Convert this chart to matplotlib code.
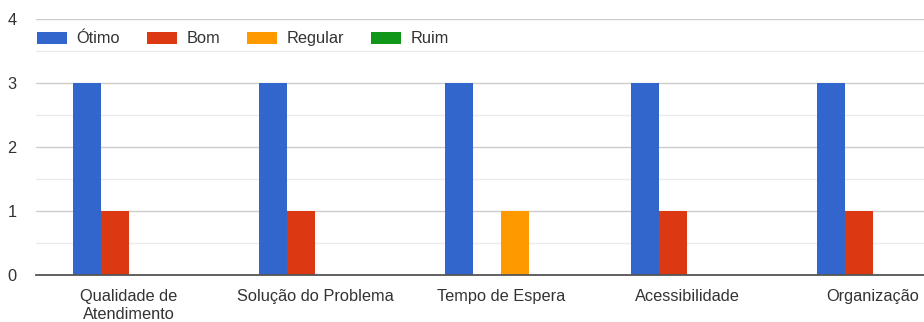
import numpy as np
import matplotlib
matplotlib.use("agg")
import matplotlib.pyplot as plt
from matplotlib.ticker import MultipleLocator

plt.rcParams['font.family'] = ['Liberation Sans', 'DejaVu Sans']

categories = ["Qualidade de\nAtendimento", "Solução do Problema", "Tempo de Espera",
              "Acessibilidade", "Organização"]
series_names = ["Ótimo", "Bom", "Regular", "Ruim"]
otimo = [3, 3, 3, 3, 3]
bom = [1, 1, 0, 1, 1]
regular = [0, 0, 1, 0, 0]
ruim = [0, 0, 0, 0, 0]
colors = ["#3366cc", "#dc3912", "#ff9900", "#109618"]

fs = 11.8

fig = plt.figure(figsize=(9.24, 3.22), dpi=100)
# the plot area runs past the right edge, so the last label gets cut
ax = fig.add_axes([36 / 924, 47 / 322, 930 / 924, 256 / 322])

x = np.arange(len(categories))
w = 0.15
for i, (vals, c, name) in enumerate(zip([otimo, bom, regular, ruim], colors, series_names)):
    ax.bar(x + (i - 1.5) * w, vals, width=w, color=c, label=name, zorder=3)

ax.set_xlim(-0.5, len(categories) - 0.5)
ax.set_ylim(0, 4)
ax.yaxis.set_major_locator(MultipleLocator(1))
ax.yaxis.set_minor_locator(MultipleLocator(0.5))
ax.grid(axis='y', which='major', color='#cccccc', linewidth=1, zorder=0)
ax.grid(axis='y', which='minor', color='#ebebeb', linewidth=1, zorder=0)
for s in ['top', 'right', 'left']:
    ax.spines[s].set_visible(False)
ax.spines['bottom'].set_color('#555555')
ax.spines['bottom'].set_linewidth(1.3)
ax.spines['bottom'].set_zorder(4)
ax.set_xticks(x)
ax.set_xticklabels(categories, linespacing=1.25)
ax.tick_params(axis='x', length=0, pad=10, labelsize=fs, labelcolor='#333333')
ax.tick_params(axis='y', which='both', length=0, pad=14, labelsize=fs, labelcolor='#333333')

ax.legend(loc='center left', bbox_to_anchor=(1 / 930, 0.922), ncol=4, frameon=False,
          fontsize=fs, handlelength=1.8, handleheight=0.8, handletextpad=0.6,
          columnspacing=1.65, labelcolor='#333333', borderpad=0, borderaxespad=0)

fig.savefig("out.png", dpi=100)
